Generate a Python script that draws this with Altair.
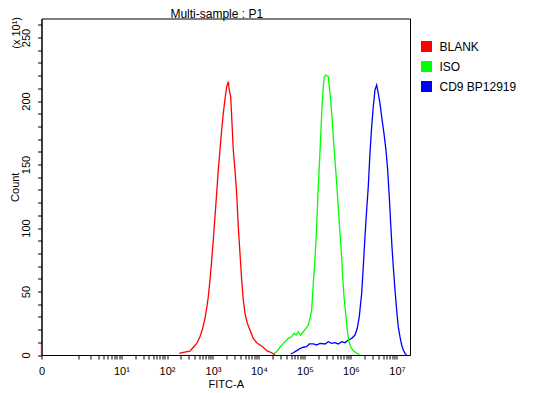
import altair as alt
import pandas as pd

FONT = "Liberation Sans"

series_names = ["BLANK", "ISO", "CD9 BP12919"]
series_colors = ["#ff0000", "#00ff00", "#0000ff"]

# FITC-A values and counts (x10^1)
blank_spike_x = [0, 0]
blank_spike_y = [0, 8]

blank_x = [185, 226, 316, 373, 443, 521, 597, 670, 730, 791, 861, 938, 1016, 1105, 1202,
           1303, 1419, 1545, 1675, 1850, 1985, 2153, 2262, 2427, 2552, 2763, 3006, 3273,
           3548, 3863, 4207, 4560, 4966, 5572, 6370, 7516, 8913, 10510, 12390, 14690,
           18880, 22280]
blank_y = [1.3, 2.1, 3.1, 6.1, 9.2, 14.4, 21.0, 28.9, 36.8, 45.9, 59.1, 74.8, 90.6, 108.9,
           127.3, 145.7, 161.4, 177.2, 190.3, 203.4, 211.3, 215.2, 208.7, 203.4, 187.6,
           161.4, 145.7, 127.3, 101.0, 80.1, 59.1, 43.3, 32.8, 25.0, 19.7, 13.1, 9.7, 7.9,
           6.1, 3.4, 1.8, 0]

iso_x = [20460, 24250, 28640, 33770, 40000, 43340, 51400, 57670, 63730, 71500, 80690,
         91850, 105100, 118000, 128500, 140000, 147000, 157000, 167600, 179600, 191700,
         204800, 219500, 234400, 250100, 263000, 286300, 321200, 337600, 362100, 386500,
         412300, 449000, 488700, 529500, 576700, 628100, 660500, 705300, 778700, 831300,
         891300, 984500, 1122000, 1284000, 1570000]
iso_y = [0.8, 2.6, 6.1, 9.2, 11.8, 13.1, 14.4, 17.1, 15.7, 18.3, 15.7, 18.3, 21.0, 23.6,
         28.9, 35.4, 48.6, 64.3, 80.1, 101.0, 127.3, 148.3, 171.9, 195.5, 211.3, 219.1,
         220.5, 219.1, 211.3, 200.8, 187.6, 171.9, 153.5, 135.2, 116.8, 95.8, 77.4, 61.7,
         45.9, 30.2, 19.7, 11.8, 6.5, 3.4, 1.8, 0]

cd9_x = [48870, 55700, 66070, 77890, 91850, 108900, 124000, 151400, 179600, 211800,
         272300, 321200, 380400, 449000, 529500, 628100, 741300, 873800, 1035000, 1222000,
         1371000, 1515000, 1709000, 1851000, 2015000, 2194000, 2377000, 2588000, 2818000,
         3055000, 3326000, 3622000, 3921000, 4270000, 4649000, 5216000, 5764000, 6281000,
         6806000, 7295000, 7786000, 8318000, 9057000, 9847000, 10660000, 11610000,
         12640000, 13710000, 14940000, 16270000]
cd9_y = [0.8, 1.8, 3.4, 5.0, 6.1, 6.5, 8.7, 8.7, 7.9, 9.2, 8.7, 10.5, 9.2, 9.7, 8.7, 10.5,
         9.7, 11.8, 13.1, 15.7, 21.0, 30.2, 48.6, 69.5, 93.1, 114.2, 132.5, 158.8, 179.8,
         195.5, 208.7, 212.6, 206.1, 198.2, 187.6, 174.6, 161.4, 145.7, 124.6, 103.7, 85.3,
         69.5, 51.2, 35.4, 22.3, 14.4, 7.9, 3.9, 1.3, 0]

# axis ticks and labels
x_label_values = [0, 10, 100, 1000, 10000, 100000, 1000000, 10000000]
x_label_texts = ["0", "10\u00b9", "10\u00b2", "10\u00b3", "10\u2074", "10\u2075", "10\u2076", "10\u2077"]
x_minor_multipliers = [1, 2, 3, 4, 5, 6, 7, 8, 9]
x_minor_decades = [1, 10, 100, 1000, 10000, 100000, 1000000]
y_tick_values = [0, 10, 20, 30, 40, 50, 60, 70, 80, 90, 100, 110, 120, 130, 140, 150, 160,
                 170, 180, 190, 200, 210, 220, 230, 240, 250, 260]
y_unit_label = "(x 10\u00b9)"
chart_title = "Multi-sample : P1"

x_tick_values = sorted(set([0] + [m * d for d in x_minor_decades for m in x_minor_multipliers]
                           + [10000000]))

rows = []
def add(series, seg, xs, ys):
    for xv, yv in zip(xs, ys):
        rows.append({"series": series, "seg": seg, "fitc": xv, "count": yv})

add("CD9 BP12919", "c", cd9_x, cd9_y)
add("ISO", "i", iso_x, iso_y)
add("BLANK", "b0", blank_spike_x, blank_spike_y)
add("BLANK", "b1", blank_x, blank_y)
df = pd.DataFrame(rows)

label_expr = " : ".join(f"datum.value == {v} ? '{t}'" for v, t in zip(x_label_values, x_label_texts)) + " : ''"

x_scale = alt.Scale(type="symlog", constant=0.187, domain=[0, 1.92e7], nice=False)
y_scale = alt.Scale(domain=[0, 265], nice=False)

x_enc = alt.X("fitc:Q", scale=x_scale,
              axis=alt.Axis(values=x_tick_values, labelExpr=label_expr, title="FITC-A",
                            labelFlush=False, labelOverlap=False, labelPadding=6,
                            titlePadding=2, tickSize=4))
y_enc = alt.Y("count:Q", scale=y_scale,
              axis=alt.Axis(values=y_tick_values,
                            labelExpr="datum.value % 50 == 0 ? datum.label : ''",
                            title="Count", labelAngle=270, labelAlign="center",
                            labelBaseline="alphabetic", labelPadding=8, tickSize=4,
                            labelOverlap=False, titlePadding=0))

lines = alt.Chart(df).mark_line(strokeWidth=1.3).encode(
    x=x_enc,
    y=y_enc,
    color=alt.Color("series:N", scale=alt.Scale(domain=series_names, range=series_colors),
                    legend=alt.Legend(orient="none", legendX=379, legendY=22, title=None,
                                      symbolType="square", symbolSize=30,
                                      symbolStrokeWidth=5.5,
                                      labelFontSize=12, labelFont=FONT, labelColor="black",
                                      rowPadding=-17, labelOffset=7, padding=0)),
    detail="seg:N",
)

unit_text = alt.Chart(pd.DataFrame({"t": [y_unit_label]})).mark_text(
    angle=270, align="right", baseline="alphabetic", fontSize=11, font=FONT, color="black"
).encode(x=alt.value(-22), y=alt.value(-1.5), text="t:N")

chart = alt.layer(lines, unit_text).properties(
    width=368.5, height=336.5,
    title=alt.Title(chart_title, fontSize=12, font=FONT, fontWeight="normal", color="black",
                    anchor="middle", frame="group", dx=-9, dy=9, offset=5),
    padding={"left": 33.5, "top": 10.5, "right": 125, "bottom": 36},
    autosize="none",
).configure_view(stroke="black", strokeWidth=1).configure_axis(
    domainColor="black", tickColor="black", labelColor="black", titleColor="black",
    labelFont=FONT, titleFont=FONT, labelFontSize=11, titleFontSize=11,
    titleFontWeight="normal", grid=False, domainWidth=1, tickWidth=1
)

chart.save("out.html", embed_options={"renderer": "svg", "actions": False})
